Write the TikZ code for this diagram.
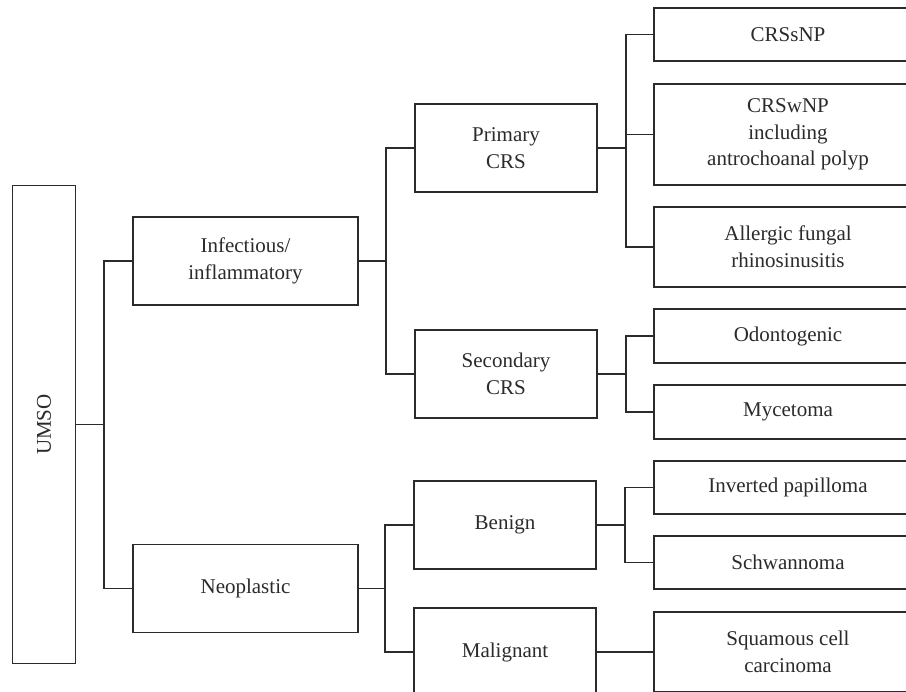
\documentclass[tikz,border=0pt]{standalone}
\usepackage{fontspec}
\setmainfont{Liberation Serif}
\definecolor{ink}{RGB}{45,42,43}
\begin{document}
\begin{tikzpicture}[x=1pt,y=-1pt,
  box/.style={draw=ink, line width=1.1pt, inner sep=0pt, align=center, text=ink,
    font=\fontsize{21}{26.7}\selectfont},
  wire/.style={draw=ink, line width=1.1pt}]
\useasboundingbox (0,0) rectangle (906,692);
\clip (0,0) rectangle (906,692);
\fill[white] (0,0) rectangle (906,692);
% nodes
\node[box, minimum width=62.6pt, minimum height=477.6pt] (umso) at (44,424.5) {\rotatebox{90}{UMSO}};
\node[box, minimum width=225pt, minimum height=88pt] (inf) at (245.5,261) {Infectious/\\inflammatory};
\node[box, minimum width=225pt, minimum height=88pt] (neo) at (245.5,588.5) {Neoplastic};
\node[box, minimum width=182pt, minimum height=88pt] (pri) at (506,148) {Primary\\CRS};
\node[box, minimum width=182pt, minimum height=88pt] (sec) at (506,374) {Secondary\\CRS};
\node[box, minimum width=182pt, minimum height=88pt] (ben) at (505,525) {Benign};
\node[box, minimum width=182pt, minimum height=88pt] (mal) at (505,652) {Malignant};
\node[box, minimum width=268pt, minimum height=53pt] (crss) at (788,34.5) {CRSsNP};
\node[box, minimum width=268pt, minimum height=101pt] (crsw) at (788,134.5) {CRSwNP\\including\\antrochoanal polyp};
\node[box, minimum width=268pt, minimum height=80pt] (afr) at (788,247) {Allergic fungal\\rhinosinusitis};
\node[box, minimum width=268pt, minimum height=54pt] (odo) at (788,336) {Odontogenic};
\node[box, minimum width=268pt, minimum height=54pt] (myc) at (788,412) {Mycetoma};
\node[box, minimum width=268pt, minimum height=53pt] (inv) at (788,487.5) {Inverted papilloma};
\node[box, minimum width=268pt, minimum height=53pt] (sch) at (788,562.5) {Schwannoma};
\node[box, minimum width=268pt, minimum height=80pt] (sqc) at (788,652) {Squamous cell\\carcinoma};
% junctions
\coordinate (j1) at (104,424.5);
\coordinate (j2) at (386,261);
\coordinate (j3) at (626,148);
\coordinate (j4) at (626,374);
\coordinate (j5) at (385,588.5);
\coordinate (j6) at (625,525);
% connectors
\draw[wire] (umso.east) -- (j1);
\draw[wire] (inf.west) -| (j1) |- (neo.west);
\draw[wire] (inf.east) -- (j2);
\draw[wire] (pri.west) -| (j2) |- (sec.west);
\draw[wire] (pri.east) -- (j3);
\draw[wire] (crss.west) -| (j3) |- (afr.west);
\draw[wire] (crsw.west) -- (crsw.west -| j3);
\draw[wire] (sec.east) -- (j4);
\draw[wire] (odo.west) -| (j4) |- (myc.west);
\draw[wire] (neo.east) -- (j5);
\draw[wire] (ben.west) -| (j5) |- (mal.west);
\draw[wire] (ben.east) -- (j6);
\draw[wire] (inv.west) -| (j6) |- (sch.west);
\draw[wire] (mal.east) -- (sqc.west);
\end{tikzpicture}
\end{document}
